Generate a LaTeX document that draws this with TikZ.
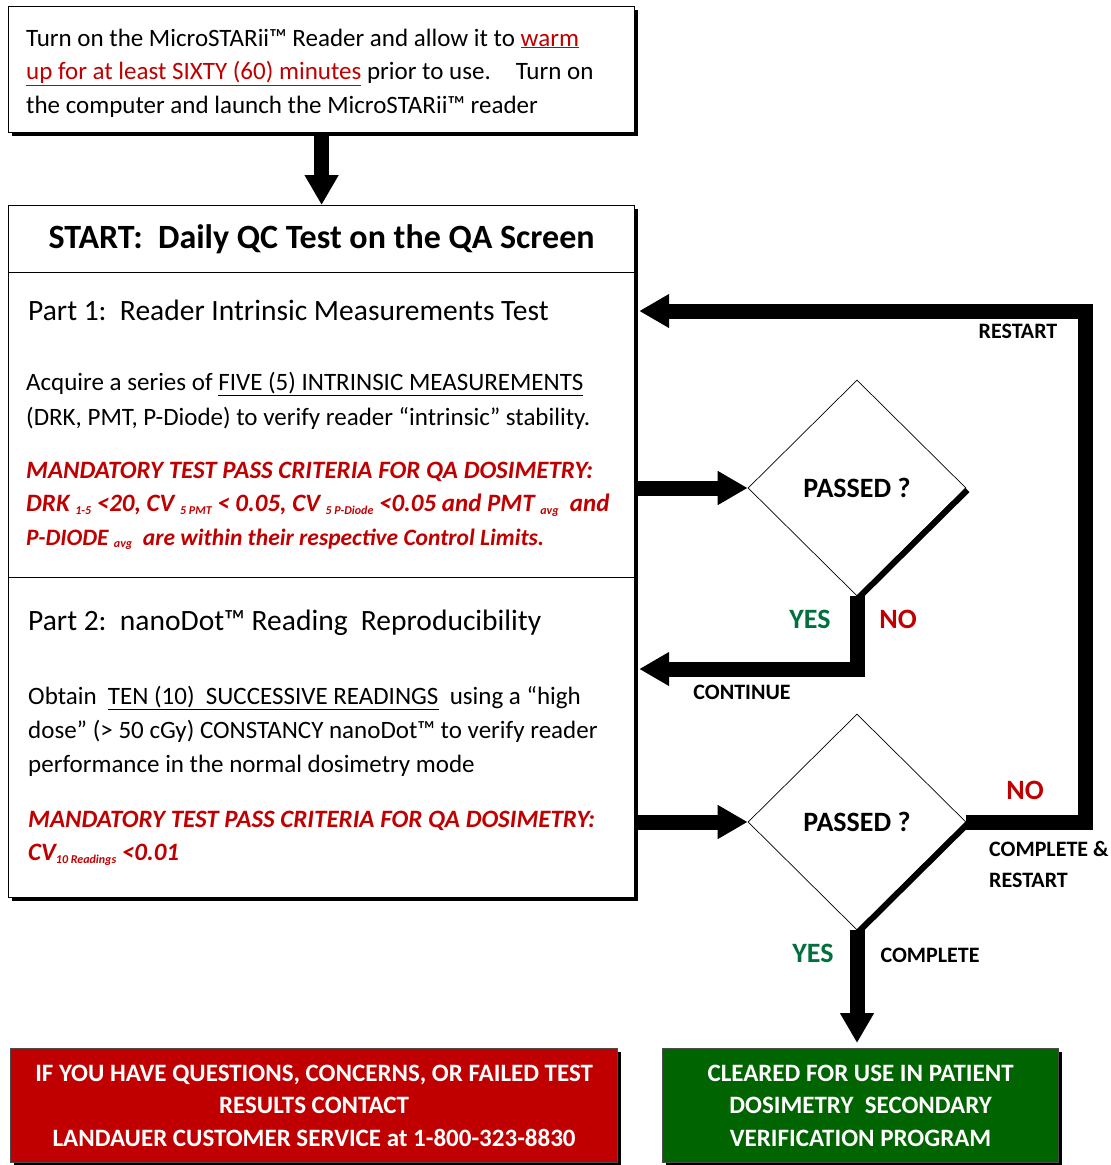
\documentclass[tikz,border=0pt]{standalone}
\usepackage{fontspec}
\setmainfont{Carlito}
\usetikzlibrary{positioning,arrows.meta,shapes.geometric,shadows,calc}
\definecolor{qcred}{HTML}{C00000}
\definecolor{qcgreen}{HTML}{006400}
\definecolor{yesgreen}{HTML}{00703C}
\newcommand{\qcsize}[2]{\fontsize{#1}{#2}\selectfont}
\newcommand{\qcsub}[1]{\raisebox{-0.25ex}{\qcsize{12}{12}#1}}
\tikzset{
  box/.style={draw,line width=1.2pt,fill=white,inner sep=0pt,anchor=north west,
    drop shadow={shadow xshift=3pt,shadow yshift=-3pt,fill=black,opacity=1}},
  colorbox/.style={box,draw=black!70,text=white,align=center,
    font=\bfseries\qcsize{25}{32.5}},
  txt/.style={anchor=base west,inner sep=0pt,align=left},
  decision/.style={diamond,draw,line width=0.7pt,fill=white,inner sep=0pt,
    minimum width=218pt,minimum height=216pt,font=\bfseries\qcsize{28}{30}},
  lbl/.style={inner sep=0pt,font=\bfseries\qcsize{22}{31}},
  yesno/.style={inner sep=0pt,font=\bfseries\qcsize{28}{30}},
  fat/.style={line width=15pt,line join=miter},
  fatarrow/.style={fat,-{Triangle[length=30pt,width=32pt]}}
}
\begin{document}
\begin{tikzpicture}[x=1pt,y=-1pt]
\useasboundingbox (0,0) rectangle (1111,1165);
\fill[white] (0,0) rectangle (1111,1165);

% warm up box
\node[box,minimum width=626pt,minimum height=126pt] (warmup) at (8,6) {};
\node[txt,font=\qcsize{25}{33.5}] (warmuptext) at (26,113)
  {Turn on the MicroSTARii™ Reader and allow it to \textcolor{qcred}{\underline{warm}}\\
   \textcolor{qcred}{\underline{up for at least SIXTY (60) minutes}} prior to use.\quad Turn on\\
   the computer and launch the MicroSTARii™ reader};

% daily QC test box
\node[box,minimum width=626pt,minimum height=67pt] (start) at (8,205) {};
\node[box,minimum width=626pt,minimum height=305pt] (part1) at (8,272) {};
\node[box,minimum width=626pt,minimum height=320pt] (part2) at (8,577) {};
\node[inner sep=0pt,font=\bfseries\qcsize{34}{38}] (starttext) at (start.center)
  {START:\ \ Daily QC Test on the QA Screen};

\node[txt,font=\qcsize{29.5}{34}] (p1title) at (28,320)
  {Part 1:\ \ Reader Intrinsic Measurements Test};
\node[txt,font=\qcsize{25}{35}] (p1body) at (26,425)
  {Acquire a series of \underline{FIVE (5) INTRINSIC MEASUREMENTS}\\
   (DRK, PMT, P-Diode) to verify reader “intrinsic” stability.};
\node[txt,font=\bfseries\itshape\qcsize{25}{33.5},text=qcred] (p1crit) at (26,545)
  {MANDATORY TEST PASS CRITERIA FOR QA DOSIMETRY:\\
   DRK \qcsub{1-5} <20, CV \qcsub{5 PMT} < 0.05, CV \qcsub{5 P-Diode} <0.05 and PMT \qcsub{avg}\ \ and\\
   {\qcsize{23.5}{33.5}P-DIODE \qcsub{avg}\ \ are within their respective Control Limits.}};

\node[txt,font=\qcsize{29.5}{34}] (p2title) at (28,630)
  {Part 2:\ \ nanoDot™ Reading\ \ Reproducibility};
\node[txt,font=\qcsize{25}{34}] (p2body) at (28,772)
  {Obtain\ \ \underline{TEN (10)\ \ SUCCESSIVE READINGS}\ \ using a “high\\
   dose” (> 50 cGy) CONSTANCY nanoDot™ to verify reader\\
   performance in the normal dosimetry mode};
\node[txt,font=\bfseries\itshape\qcsize{25}{33},text=qcred] (p2crit) at (28,860)
  {MANDATORY TEST PASS CRITERIA FOR QA DOSIMETRY:\\
   CV\qcsub{10 Readings} <0.01};

% decisions
\node[decision] (pass1) at (857,488) {PASSED ?};
\node[decision] (pass2) at (857,822) {PASSED ?};
\draw[line width=6pt] ($(pass1.east)+(1,2)$) -- ($(pass1.south)+(1,2)$);
\draw[line width=6pt] ($(pass2.east)+(1,2)$) -- ($(pass2.south)+(1,2)$);

% result boxes
\node[colorbox,fill=qcred,minimum width=607pt,minimum height=114pt] (contact) at (10,1048)
  {IF YOU HAVE QUESTIONS, CONCERNS, OR FAILED TEST\\
   RESULTS CONTACT\\
   LANDAUER CUSTOMER SERVICE at 1-800-323-8830};
\node[colorbox,fill=qcgreen,minimum width=396pt,minimum height=114pt] (cleared) at (662,1048)
  {CLEARED FOR USE IN PATIENT\\
   DOSIMETRY\ \ SECONDARY\\
   VERIFICATION PROGRAM};

% connectors
\coordinate (restart) at (1085,311);
\coordinate (contin) at (857,669);
\draw[fatarrow] (warmup.south) -- (start.north);
\draw[fatarrow] (part1.east |- pass1) -- (pass1.west);
\draw[fatarrow] (part2.east |- pass2) -- (pass2.west);
\draw[fatarrow] (pass1.south) -- (contin) -- ([xshift=4pt]part2.east |- contin);
\draw[fatarrow] (pass2.east) -| (restart) -- ([xshift=4pt]part1.east |- restart);
\draw[fatarrow] (pass2.south) -- ([yshift=5pt]pass2.south |- cleared.north);

% labels
\node[lbl] (lrestart) at (1018,331) {RESTART};
\node[yesno,text=yesgreen] (lyes1) at (810,619) {YES};
\node[yesno,text=qcred] (lno1) at (898,619) {NO};
\node[lbl] (lcontinue) at (742,692) {CONTINUE};
\node[yesno,text=qcred] (lno2) at (1025,790) {NO};
\node[lbl,anchor=west,align=left] (lcomplrest) at (989,864) {COMPLETE \&\\RESTART};
\node[yesno,text=yesgreen] (lyes2) at (813,953) {YES};
\node[lbl] (lcomplete) at (930,955) {COMPLETE};
\end{tikzpicture}
\end{document}
